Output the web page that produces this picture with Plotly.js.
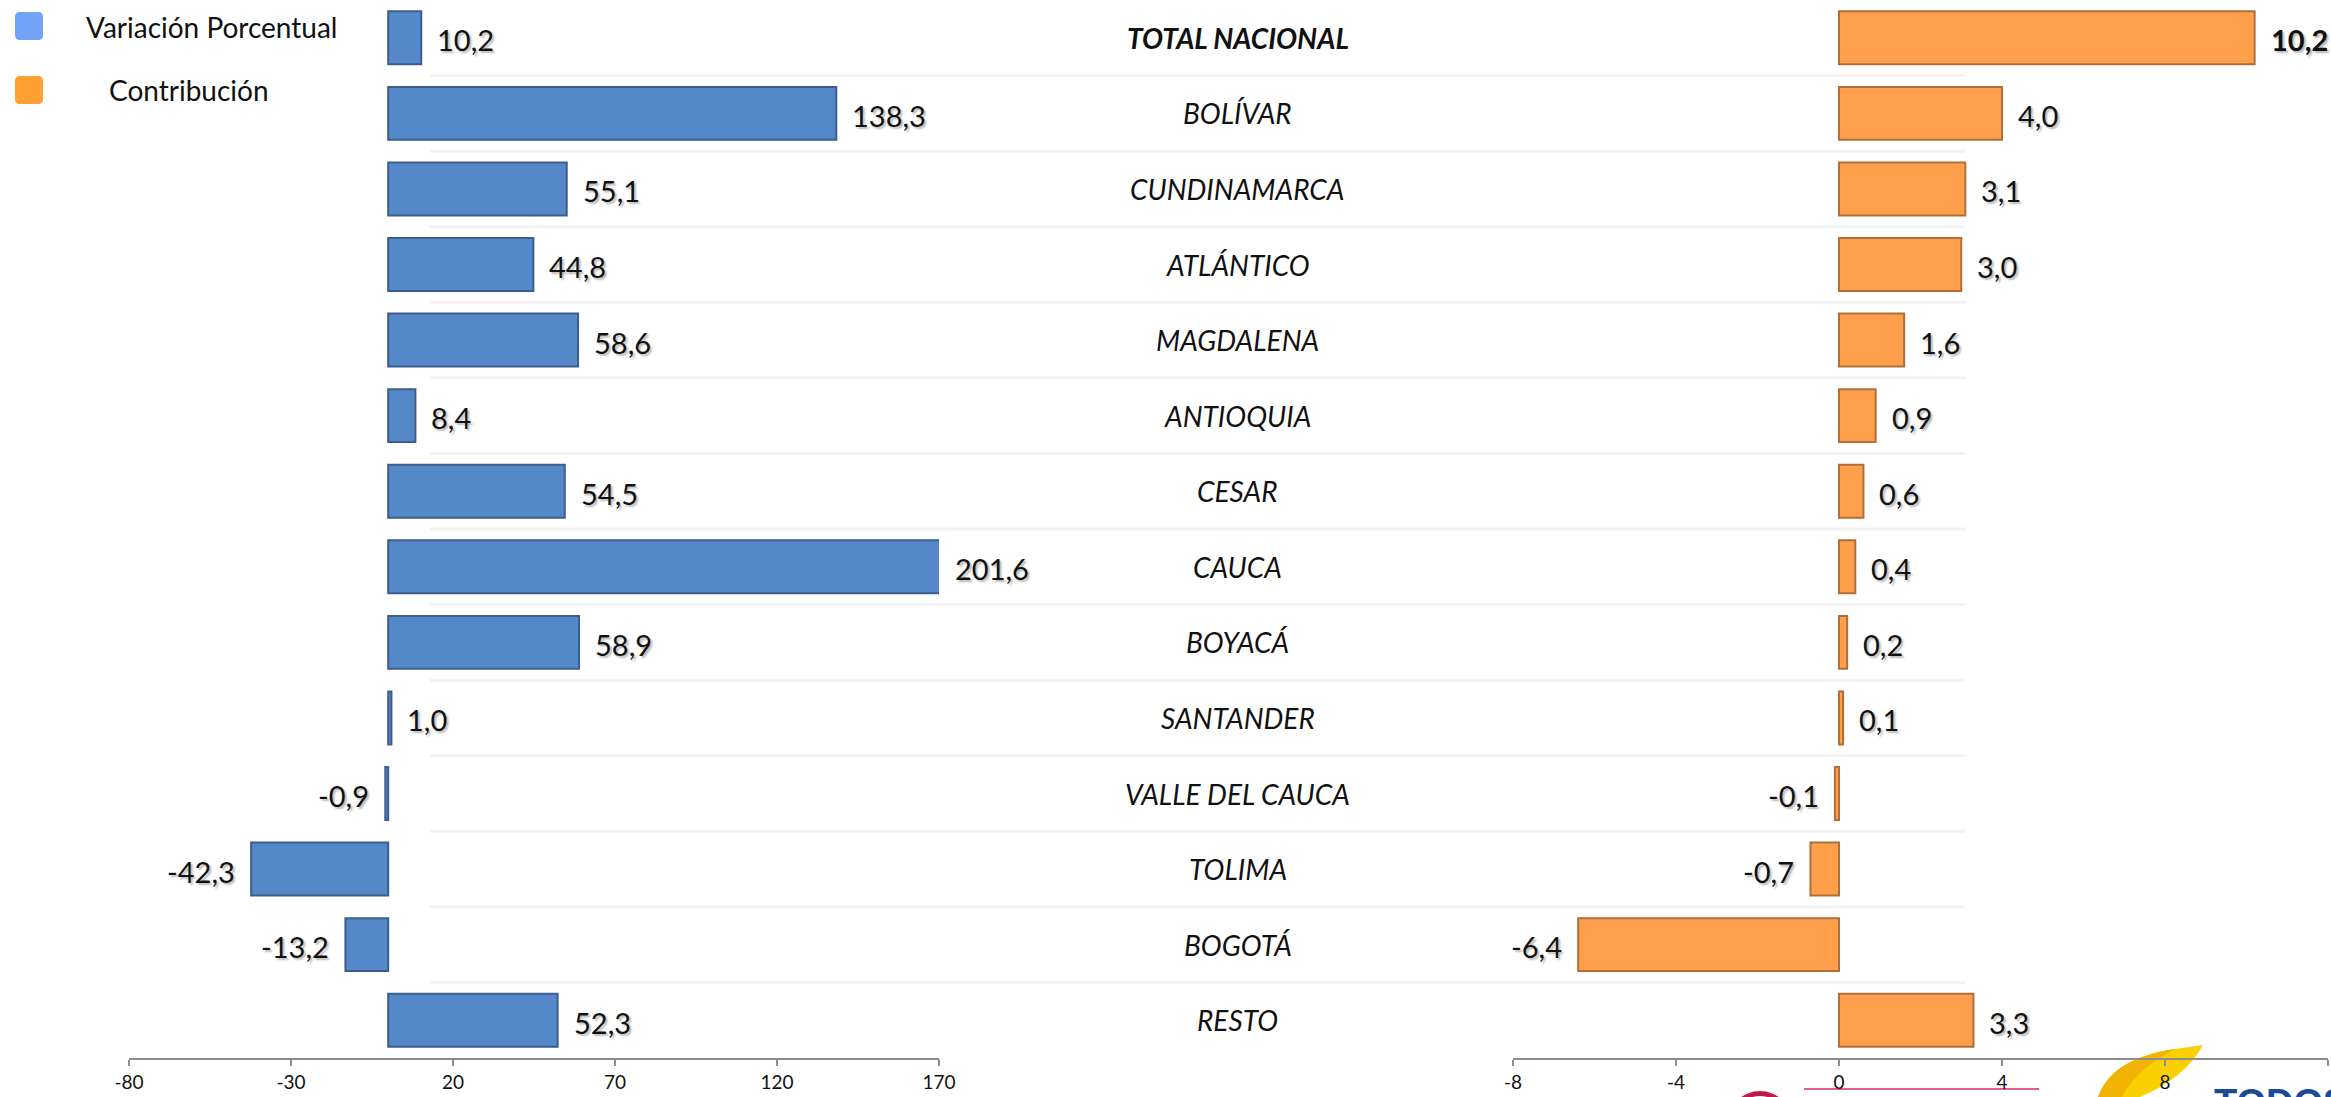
<!DOCTYPE html>
<html>
<head>
<meta charset="utf-8">
<script src="https://cdn.plot.ly/plotly-3.0.1.min.js"></script>
<style>html,body{margin:0;padding:0;background:#fff;overflow:hidden}#chart{width:2331px;height:1097px}</style>
</head>
<body>
<div id="chart"></div>
<script>
const categories = ['TOTAL NACIONAL','BOLÍVAR','CUNDINAMARCA','ATLÁNTICO','MAGDALENA','ANTIOQUIA','CESAR','CAUCA','BOYACÁ','SANTANDER','VALLE DEL CAUCA','TOLIMA','BOGOTÁ','RESTO'];
const variacion = [10.2,138.3,55.1,44.8,58.6,8.4,54.5,201.6,58.9,1.0,-0.9,-42.3,-13.2,52.3];
const contribucion = [10.2,4.0,3.1,3.0,1.6,0.9,0.6,0.4,0.2,0.1,-0.1,-0.7,-6.4,3.3];
const leftTicks = [-80,-30,20,70,120,170];
const rightTicks = [-8,-4,0,4,8,12];
const legendNames = ['Variación Porcentual','Contribución'];

const W = 2331, H = 1097, MB = 39, PH = H - MB;
const px = x => x / W;
const py = y => (PH - y) / PH;
const fmt = v => v.toFixed(1).replace('.', ',');
const FONT = 'Lato, "Open Sans", sans-serif';
const SHADOW = '2px 2px 2px rgba(0,0,0,0.28)';

const leftMax = leftTicks[leftTicks.length-1];

const traces = [
  {type:'bar', orientation:'h', y:categories, x:variacion, xaxis:'x', yaxis:'y',
   marker:{color:'#5588C8', line:{color:'#3B5E8C', width:2}}, hoverinfo:'x+y', showlegend:false},
  {type:'bar', orientation:'h', y:categories, x:contribucion, xaxis:'x2', yaxis:'y',
   marker:{color:'#FF9F4B', line:{color:'#B06F38', width:2}}, hoverinfo:'x+y', showlegend:false}
];

const annotations = [];
categories.forEach((c, i) => {
  const v = variacion[i];
  annotations.push({xref:'x', yref:'y', x: v >= 0 ? Math.min(v, leftMax) : v, y:c, text:fmt(v),
    xanchor: v >= 0 ? 'left' : 'right', xshift: v >= 0 ? 14 : -14, yshift:-2, showarrow:false,
    font:{family:FONT, size:29, color:'#111', shadow:SHADOW}});
  const w = contribucion[i];
  annotations.push({xref:'x2', yref:'y', x:w, y:c, text: i === 0 ? '<b>' + fmt(w) + '</b>' : fmt(w),
    xanchor: w >= 0 ? 'left' : 'right', xshift: w >= 0 ? 14 : -14, yshift:-2, showarrow:false,
    font:{family:FONT, size:29, color:'#111', shadow:SHADOW}});
  annotations.push({xref:'paper', yref:'y', x:0.531, y:c, text: i === 0 ? '<b><i>' + c + '</i></b>' : '<i>' + c + '</i>',
    xanchor:'center', showarrow:false, font:{family:FONT, size:28, color:'#111'}});
});

// legend texts
annotations.push({xref:'paper', yref:'paper', x:px(84), y:py(27), text:legendNames[0], xanchor:'left', yanchor:'middle', showarrow:false, font:{family:FONT, size:28, color:'#111'}});
annotations.push({xref:'paper', yref:'paper', x:px(107), y:py(90), text:legendNames[1], xanchor:'left', yanchor:'middle', showarrow:false, font:{family:FONT, size:28, color:'#111'}});
// logo text (partially visible, as in the reference)
annotations.push({xref:'paper', yref:'paper', x:px(2212), y:py(1080), text:'<b>TODOS</b>', xanchor:'left', yanchor:'top', showarrow:false, font:{family:'"Liberation Sans", Arial, sans-serif', size:38, color:'#1A4B94'}});

function rr(cx, cy, s, r){
  const x0 = cx - s/2, x1 = cx + s/2, y0 = cy - s/2, y1 = cy + s/2;
  return `M ${px(x0+r)},${py(y0)} L ${px(x1-r)},${py(y0)} Q ${px(x1)},${py(y0)} ${px(x1)},${py(y0+r)} L ${px(x1)},${py(y1-r)} Q ${px(x1)},${py(y1)} ${px(x1-r)},${py(y1)} L ${px(x0+r)},${py(y1)} Q ${px(x0)},${py(y1)} ${px(x0)},${py(y1-r)} L ${px(x0)},${py(y0+r)} Q ${px(x0)},${py(y0)} ${px(x0+r)},${py(y0)} Z`;
}

const shapes = [];
for (let i = 0; i < categories.length - 1; i++) {
  shapes.push({type:'line', xref:'paper', yref:'y', x0:px(430), x1:px(1965), y0:i+0.5, y1:i+0.5, line:{color:'#F2F2F2', width:3}, layer:'below'});
}
shapes.push({type:'path', xref:'paper', yref:'paper', path:rr(29,26,28,5), fillcolor:'#72A2F6', line:{width:0}});
shapes.push({type:'path', xref:'paper', yref:'paper', path:rr(29,90,28,5), fillcolor:'#FFA033', line:{width:0}});
// decorative logo pieces (drawn beneath axis labels)
shapes.push({type:'line', xref:'paper', yref:'paper', x0:px(1804), x1:px(2039), y0:py(1089), y1:py(1089), line:{color:'#E0608A', width:2}, layer:'below'});
shapes.push({type:'circle', xref:'paper', yref:'paper', x0:px(1728), x1:px(1792), y0:py(1091), y1:py(1155), fillcolor:'#C21A4E', line:{width:0}, layer:'below'});
shapes.push({type:'circle', xref:'paper', yref:'paper', x0:px(1733), x1:px(1787), y0:py(1096), y1:py(1150), fillcolor:'#FFFFFF', line:{width:0}, layer:'below'});
shapes.push({type:'path', xref:'paper', yref:'paper',
  path:`M ${px(2098)},${py(1097)} Q ${px(2112)},${py(1058)} ${px(2175)},${py(1049)} L ${px(2203)},${py(1045)} Q ${px(2185)},${py(1078)} ${px(2140)},${py(1097)} Z`,
  fillcolor:'#FAD000', line:{width:0}, layer:'below'});
shapes.push({type:'path', xref:'paper', yref:'paper',
  path:`M ${px(2098)},${py(1097)} Q ${px(2112)},${py(1058)} ${px(2175)},${py(1049)} Q ${px(2135)},${py(1070)} ${px(2122)},${py(1097)} Z`,
  fillcolor:'#F2B200', line:{width:0}, layer:'below'});

const axisCommon = {showgrid:false, zeroline:false, showline:true, linecolor:'#8C8C8C', linewidth:2,
  ticks:'outside', ticklen:6, tickwidth:2, tickcolor:'#8C8C8C', ticklabelstandoff:0,
  tickfont:{family:FONT, size:19, color:'#111'}, fixedrange:true};

const layout = {
  width:W, height:H, margin:{l:0, r:0, t:0, b:MB}, paper_bgcolor:'#fff', plot_bgcolor:'rgba(0,0,0,0)',
  bargap:0.3, showlegend:false,
  xaxis: Object.assign({}, axisCommon, {domain:[px(129), px(939)], range:[leftTicks[0], leftMax], tickvals:leftTicks, ticktext:leftTicks.map(String), anchor:'y'}),
  xaxis2: Object.assign({}, axisCommon, {domain:[px(1513), px(2328)], range:[rightTicks[0], rightTicks[rightTicks.length-1]], tickvals:rightTicks, ticktext:rightTicks.map(String), anchor:'y'}),
  yaxis: {type:'category', categoryarray:categories, range:[categories.length-0.5, -0.5], showticklabels:false, showgrid:false, zeroline:false, showline:false, ticks:'', fixedrange:true},
  annotations, shapes
};

Plotly.newPlot('chart', traces, layout, {displayModeBar:false, staticPlot:true});
</script>
</body>
</html>
